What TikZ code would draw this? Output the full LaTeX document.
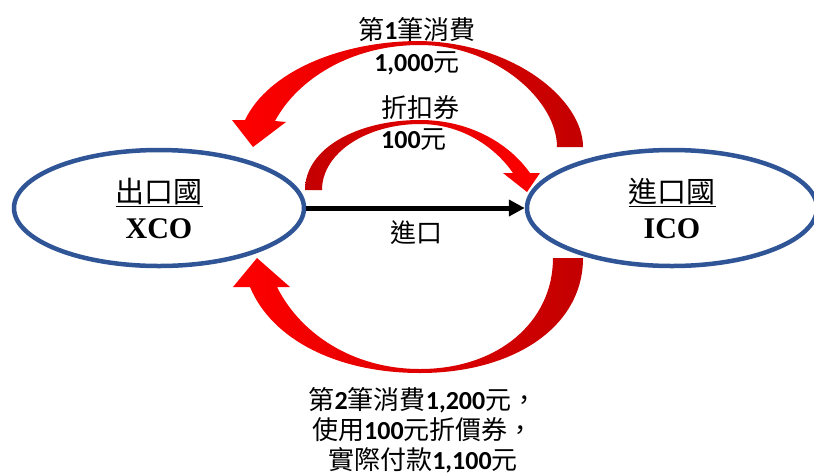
\documentclass[tikz,border=0pt]{standalone}
\usepackage{fontspec}
\setmainfont{Noto Sans CJK TC}
\newfontfamily\numfont{Carlito}
\newfontfamily\timesfont{Liberation Serif}
\usetikzlibrary{arrows.meta,shapes.geometric}
\definecolor{bred}{RGB}{255,0,0}
\definecolor{dred}{RGB}{195,0,0}
\definecolor{ellblue}{RGB}{47,85,151}
\newcommand\nb[1]{{\numfont\bfseries #1}}
\tikzset{
  country/.style={ellipse, draw=ellblue, line width=4.5pt, fill=white,
    minimum width=290pt, minimum height=116pt, align=center, inner sep=0pt,
    font=\fontsize{29}{36}\selectfont},
  lbl/.style={inner sep=0pt, font=\fontsize{26}{31}\selectfont},
  flow/.style={line width=5pt, -{Triangle[length=16pt,width=16pt]}}
}
\begin{document}
\begin{tikzpicture}[x=1pt,y=-1pt]
\useasboundingbox (0,0) rectangle (814,475);
% top big arrow: right tail -> left head
\shade[left color=bred, right color=dred]
  (583,147) .. controls (583,100) and (515,43) .. (420,41)
  .. controls (340,41) and (268,72) .. (245,120)
  -- (232,120) -- (253,147) -- (286,122) -- (275,121)
  .. controls (297,80) and (350,45) .. (420,45)
  .. controls (495,45) and (557,100) .. (557,147) -- cycle;
% inner small arrow: left tail -> right head
\shade[left color=dred, right color=bred]
  (305,190) .. controls (305,148) and (358,120) .. (420,120)
  .. controls (468,120) and (508,142) .. (530,173)
  -- (540,173) -- (527,192) -- (503,173) -- (513,173)
  .. controls (495,147) and (462,124) .. (420,124)
  .. controls (368,124) and (322,152) .. (322,190) -- cycle;
% bottom arrow: right tail -> left head
\shade[left color=bred, right color=dred]
  (583,258) .. controls (583,328) and (512,373) .. (420,373)
  .. controls (338,373) and (272,340) .. (250,287)
  -- (233,287) -- (257,258) -- (290,287) -- (277,287)
  .. controls (300,333) and (352,369) .. (420,369)
  .. controls (498,369) and (553,322) .. (553,258) -- cycle;
% countries
\node[country] (xco) at (159,208) {\underline{出口國}\\{\timesfont\bfseries\fontsize{30}{36}\selectfont XCO}};
\node[country] (ico) at (672,208) {\underline{進口國}\\{\timesfont\bfseries\fontsize{30}{36}\selectfont ICO}};
\draw[flow] (xco.east) -- (ico.west);
\node[lbl] (imp) at (416,233) {進口};
% labels
\node[lbl] (t1) at (417,30) {第\nb{1}筆消費};
\node[lbl] (t2) at (417,63) {\nb{1,000}元};
\node[lbl, anchor=west] (t3) at (381,108) {折扣券};
\node[lbl, anchor=west] (t4) at (381,140) {\nb{100}元};
\node[lbl, align=center, font=\fontsize{26}{30}\selectfont] (b) at (423,430) {第\nb{2}筆消費\nb{1,200}元，\\使用\nb{100}元折價券，\\實際付款\nb{1,100}元};
\end{tikzpicture}
\end{document}
